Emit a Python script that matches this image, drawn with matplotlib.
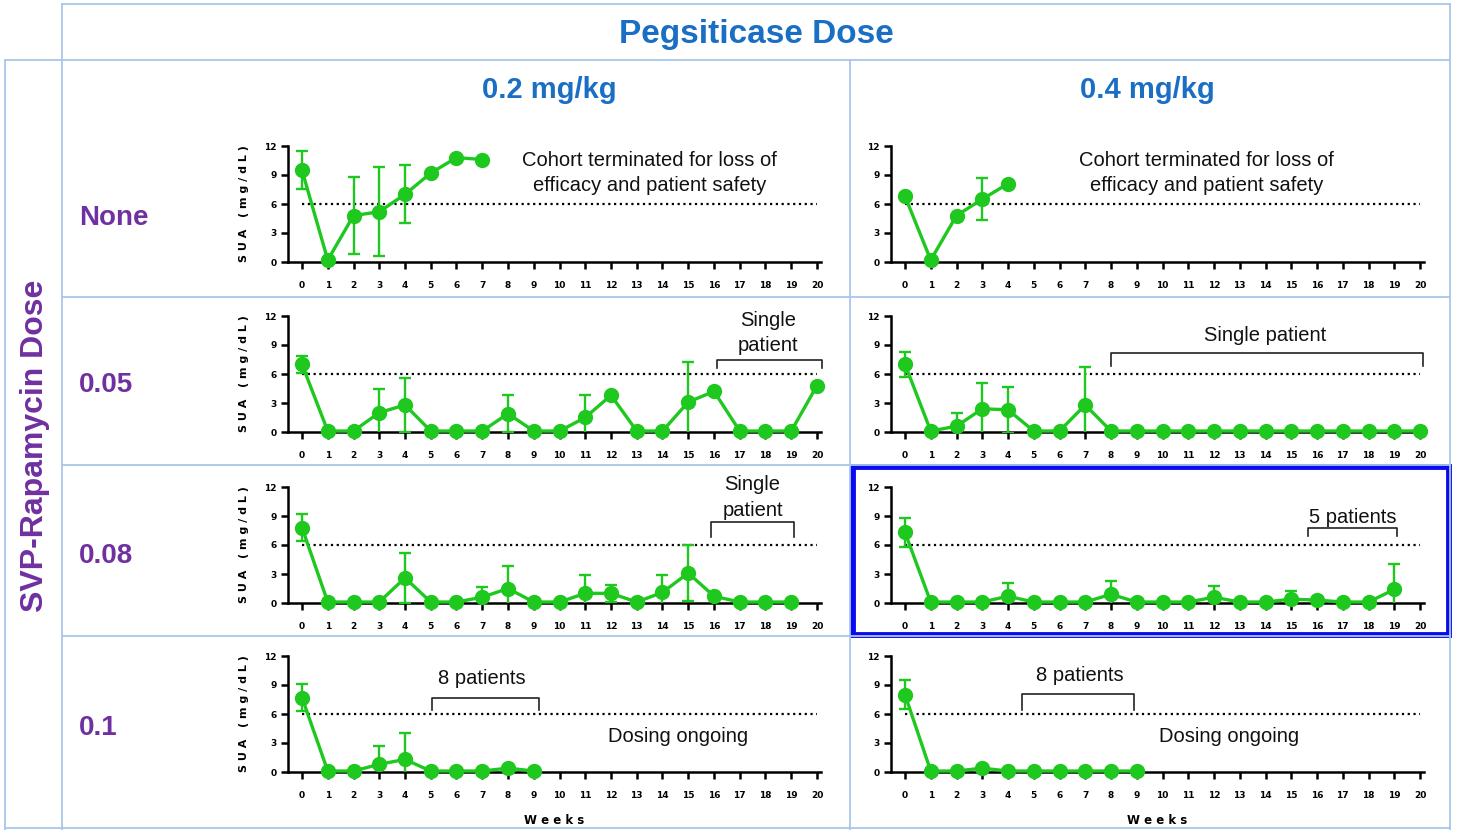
import numpy as np
import matplotlib
matplotlib.use("Agg")
import matplotlib.pyplot as plt
from matplotlib.lines import Line2D
from matplotlib.patches import Rectangle

# ---------------- data ----------------
col_labels = ["0.2 mg/kg", "0.4 mg/kg"]
row_labels = ["None", "0.05", "0.08", "0.1"]
x_ticks = list(range(0, 21))

p1_vals = [9.5, 0.2, 4.8, 5.2, 7.0, 9.2, 10.8, 10.6]
p1_err = [2.0, 0, 4.0, 4.6, 3.0, 0, 0, 0]
p2_vals = [6.8, 0.2, 4.8, 6.5, 8.1]
p2_err = [0, 0, 0, 2.2, 0]
p3_vals = [7.0, 0.1, 0.1, 2.0, 2.8, 0.1, 0.1, 0.1, 1.9, 0.1, 0.1, 1.5, 3.8, 0.1, 0.1, 3.1, 4.2, 0.1, 0.1, 0.1, 4.8]
p3_err = [0.9, 0, 0, 2.4, 2.8, 0, 0, 0, 1.9, 0, 0, 2.3, 0, 0, 0, 4.1, 0, 0, 0, 0, 0]
p4_vals = [7.0, 0.1, 0.6, 2.4, 2.3, 0.1, 0.1, 2.8, 0.1, 0.1, 0.1, 0.1, 0.1, 0.1, 0.1, 0.1, 0.1, 0.1, 0.1, 0.1, 0.1]
p4_err = [1.3, 0, 1.4, 2.7, 2.4, 0, 0, 3.9, 0, 0, 0, 0, 0, 0, 0, 0, 0, 0, 0, 0, 0]
p5_vals = [7.8, 0.1, 0.1, 0.1, 2.6, 0.1, 0.1, 0.6, 1.5, 0.1, 0.1, 1.0, 1.0, 0.1, 1.1, 3.1, 0.7, 0.1, 0.1, 0.1]
p5_err = [1.4, 0, 0, 0, 2.6, 0, 0, 1.1, 2.3, 0, 0, 1.9, 0.9, 0, 1.8, 2.9, 0, 0, 0, 0]
p6_vals = [7.3, 0.1, 0.1, 0.1, 0.7, 0.1, 0.1, 0.1, 0.9, 0.1, 0.1, 0.1, 0.6, 0.1, 0.1, 0.4, 0.3, 0.1, 0.1, 1.4]
p6_err = [1.5, 0, 0, 0, 1.4, 0, 0, 0, 1.4, 0, 0, 0, 1.2, 0, 0, 0.8, 0, 0, 0, 2.6]
p7_vals = [7.7, 0.1, 0.1, 0.8, 1.3, 0.1, 0.1, 0.1, 0.4, 0.1]
p7_err = [1.4, 0, 0, 1.9, 2.7, 0, 0, 0, 0, 0]
p8_vals = [8.0, 0.1, 0.1, 0.4, 0.1, 0.1, 0.1, 0.1, 0.1, 0.1]
p8_err = [1.5, 0, 0, 0, 0, 0, 0, 0, 0, 0]

panels = [
    (0, 0, p1_vals, p1_err), (0, 1, p2_vals, p2_err),
    (1, 0, p3_vals, p3_err), (1, 1, p4_vals, p4_err),
    (2, 0, p5_vals, p5_err), (2, 1, p6_vals, p6_err),
    (3, 0, p7_vals, p7_err), (3, 1, p8_vals, p8_err),
]

# ---------------- style ----------------
W, H = 1457, 830
GREEN = "#1ec81e"
GRID = "#a9c6ec"
BLUE_TXT = "#1a6fc4"
PURPLE = "#7030a0"
ARIAL = ["Liberation Sans", "DejaVu Sans"]

fig = plt.figure(figsize=(W / 100, H / 100), dpi=100)
fig.patch.set_facecolor("white")

def fx(px):
    return px / W

def fy(py):
    return 1 - py / H

def hline(y, x0, x1, **kw):
    fig.add_artist(Line2D([fx(x0), fx(x1)], [fy(y), fy(y)], transform=fig.transFigure, **kw))

def vline(x, y0, y1, **kw):
    fig.add_artist(Line2D([fx(x), fx(x)], [fy(y0), fy(y1)], transform=fig.transFigure, **kw))

gkw = dict(color=GRID, lw=1.3)
hline(4, 62, 1450, **gkw)
hline(60, 5, 1450, **gkw)
hline(297, 62, 1450, **gkw)
hline(465, 62, 1450, **gkw)
hline(636, 62, 1450, **gkw)
hline(828, 5, 1450, **gkw)
vline(62, 4, 830, **gkw)
vline(5, 60, 830, **gkw)
vline(1450, 4, 830, **gkw)
vline(850, 60, 830, **gkw)

fig.add_artist(Rectangle((fx(853), fy(635)), fx(1449) - fx(853), fy(467) - fy(635),
                         transform=fig.transFigure, fill=False, ec="#0a0af0", lw=4.2))

# headers
fig.text(fx(756), fy(34), "Pegsiticase Dose", ha="center", va="center",
         fontsize=24, fontweight="bold", color=BLUE_TXT, family=ARIAL)
col_cx = [549, 1147]
for lab, cx in zip(col_labels, col_cx):
    fig.text(fx(cx), fy(90), lab, ha="center", va="center", fontsize=21,
             fontweight="bold", color=BLUE_TXT, family=ARIAL)

fig.text(fx(35), fy(446), "SVP-Rapamycin Dose", rotation=90, ha="center", va="center",
         fontsize=23, fontweight="bold", color=PURPLE, family=ARIAL)
row_cy = [218, 385, 556, 728]
for lab, cy in zip(row_labels, row_cy):
    fig.text(fx(79), fy(cy), lab, ha="left", va="center", fontsize=20,
             fontweight="bold", color=PURPLE, family=ARIAL)

# axes geometry (pixels)
x0_px = [302, 905]     # pixel of week 0
px_per_week = 25.75
zero_px = [262, 432, 603, 772]
px_per_unit = 116 / 12
XMIN, XMAX = -0.55, 20.15

axes = {}
for r, c, vals, err in panels:
    left = x0_px[c] + XMIN * px_per_week
    right = x0_px[c] + XMAX * px_per_week
    bottom = zero_px[r]
    top = zero_px[r] - 12 * px_per_unit
    ax = fig.add_axes([fx(left), fy(bottom), fx(right) - fx(left), fy(top) - fy(bottom)])
    axes[(r, c)] = ax
    ax.set_xlim(XMIN, XMAX)
    ax.set_ylim(0, 12)
    ax.patch.set_alpha(0)
    for s in ["top", "right"]:
        ax.spines[s].set_visible(False)
    for s in ["left", "bottom"]:
        ax.spines[s].set_linewidth(1.8)
    ax.spines["left"].set_bounds(0, 12)
    ax.set_xticks(x_ticks)
    ax.set_yticks([0, 3, 6, 9, 12])
    ax.tick_params(axis="x", length=5, width=1.8, pad=9, labelsize=6.5)
    ax.tick_params(axis="y", length=5, width=1.8, pad=3, labelsize=6.5)
    for t in ax.get_xticklabels() + ax.get_yticklabels():
        t.set_fontweight("bold")

    ax.hlines(6, 0, 20, colors="black", linestyles=(0, (1, 1.6)), lw=1.6)

    x = np.arange(len(vals))
    v = np.array(vals, dtype=float)
    e = np.array(err, dtype=float)
    m = e > 0
    ax.errorbar(x[m], v[m], yerr=e[m], fmt="none", ecolor=GREEN, elinewidth=1.7,
                capsize=4.5, capthick=1.7, zorder=3)
    ax.plot(x, v, "-o", color=GREEN, lw=2.4, ms=10, clip_on=False, zorder=4)

    if c == 0:
        ax.set_ylabel("S U A   ( m g / d L )", fontsize=8, fontweight="bold")
        ax.yaxis.set_label_coords((249 - left) / (right - left), 0.5)
    if r == 3:
        ax.set_xlabel("W e e k s", fontsize=8.5, fontweight="bold")
        ax.xaxis.set_label_coords(0.5, -42 / 116)

TXT = dict(fontsize=14.5, family=ARIAL, color="#111111", ha="center", va="center", linespacing=1.42)

def bracket(ax, xa, xb, ytop, ylow):
    ax.plot([xa, xa, xb, xb], [ylow, ytop, ytop, ylow], color="#222222", lw=1.2, clip_on=False)

# annotations
axes[(0, 0)].text(13.5, 9.2, "Cohort terminated for loss of\nefficacy and patient safety", **TXT)
axes[(0, 1)].text(11.7, 9.2, "Cohort terminated for loss of\nefficacy and patient safety", **TXT)

axes[(1, 0)].text(18.1, 10.25, "Single\npatient", **TXT)
bracket(axes[(1, 0)], 16.1, 20.2, 7.4, 6.6)
axes[(1, 1)].text(14.0, 10.0, "Single patient", **TXT)
bracket(axes[(1, 1)], 8.0, 20.1, 8.2, 6.8)

axes[(2, 0)].text(17.5, 10.9, "Single\npatient", **TXT)
bracket(axes[(2, 0)], 15.9, 19.1, 8.4, 6.8)
axes[(2, 1)].text(17.4, 8.8, "5 patients", **TXT)
bracket(axes[(2, 1)], 15.65, 19.1, 7.8, 6.9)

axes[(3, 0)].text(7.0, 9.7, "8 patients", **TXT)
bracket(axes[(3, 0)], 5.05, 9.2, 7.65, 6.4)
axes[(3, 0)].text(14.6, 3.7, "Dosing ongoing", **TXT)
axes[(3, 1)].text(6.8, 10.0, "8 patients", **TXT)
bracket(axes[(3, 1)], 4.55, 8.9, 8.1, 6.4)
axes[(3, 1)].text(12.6, 3.7, "Dosing ongoing", **TXT)

fig.savefig("out.png", dpi=100, facecolor="white")
